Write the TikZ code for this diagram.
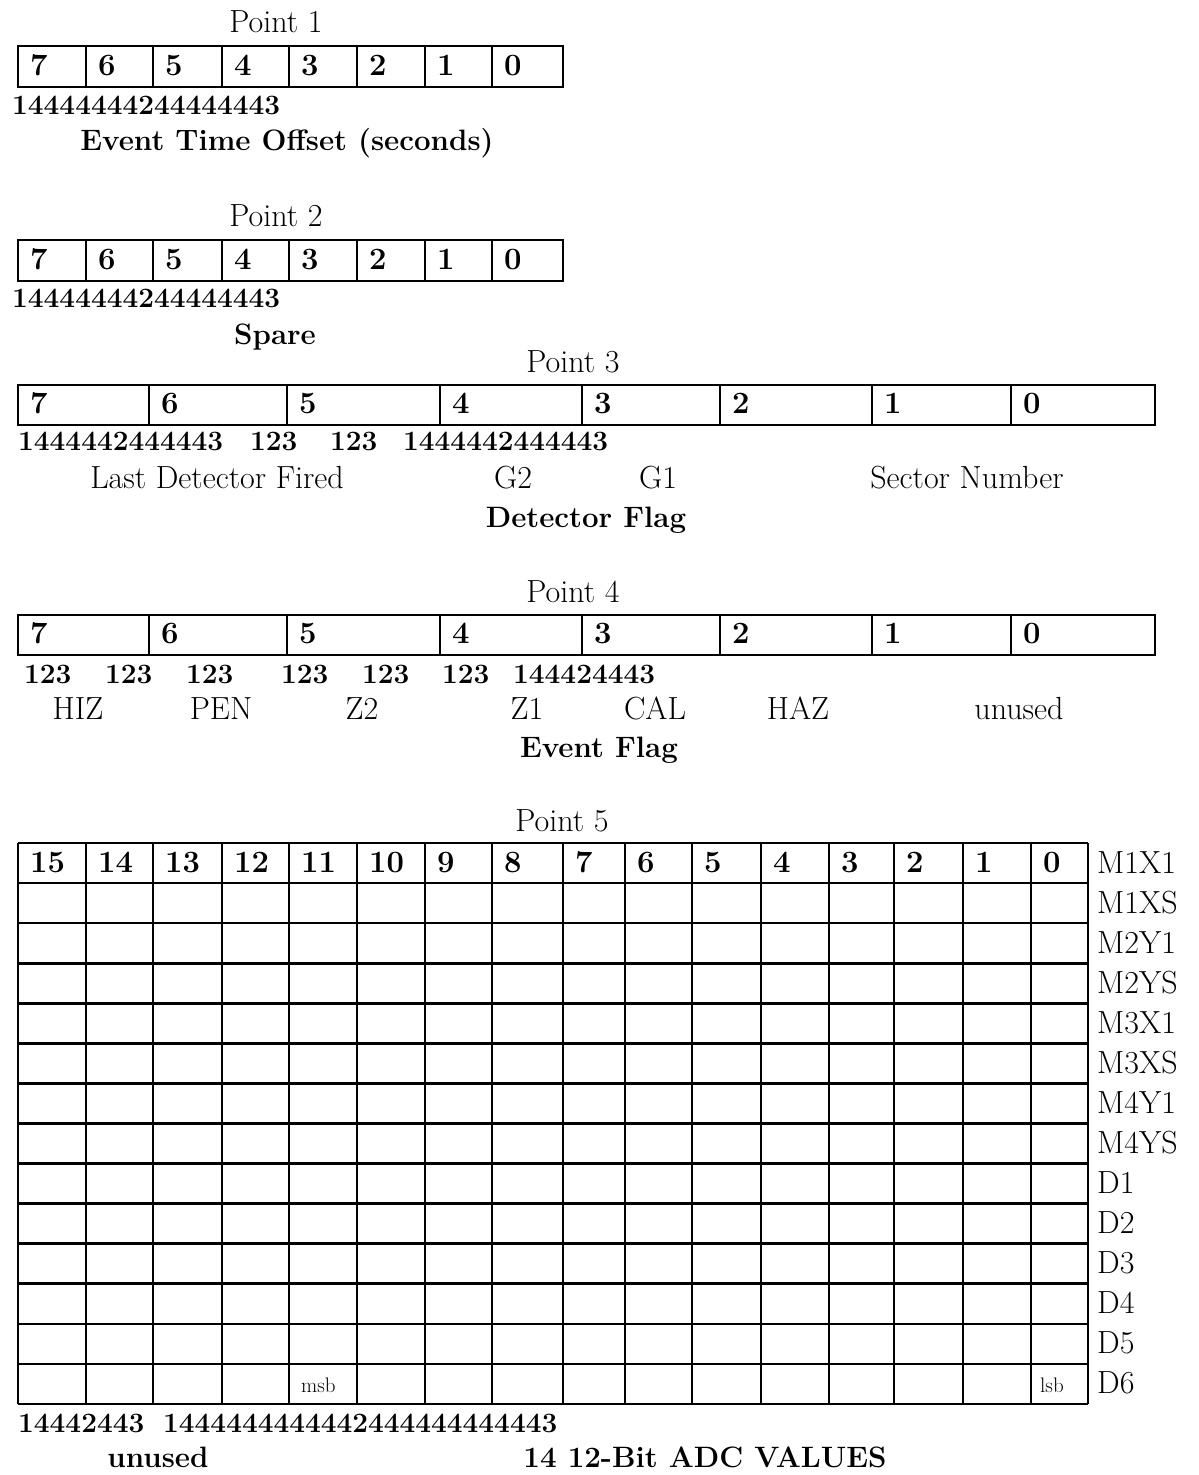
\documentclass[tikz,border=0pt]{standalone}
\usepackage{tikz}
\begin{document}
\begin{tikzpicture}[x=1pt,y=-1pt,
    rule/.style={line width=2.6pt},
    txt/.style={inner sep=0pt,font=\fontsize{32}{38}\selectfont},
    bld/.style={inner sep=0pt,font=\fontsize{29.5}{35}\selectfont\bfseries},
    bit/.style={inner sep=0pt,font=\fontsize{31}{36}\selectfont\bfseries,anchor=base west},
    brc/.style={inner sep=0pt,font=\fontsize{28}{34}\selectfont\bfseries,anchor=base west},
    small/.style={inner sep=0pt,font=\fontsize{21}{24}\selectfont,anchor=base west}]

\useasboundingbox (0,0) rectangle (1199,1475);

% Point 1
\node[txt,anchor=base] (p1) at (276,32) {Point 1};
\draw[rule] (18,46) rectangle (563,87);
\foreach \x/\b [count=\i] in {18/7,86/6,153/5,222/4,289/3,357/2,425/1,492/0}
  {\draw[rule] (\x,46) -- (\x,87);
   \node[bit] (a\i) at (\x+12,75) {\b};}
\node[brc] (a-br) at (12,114) {14444444244444443};
\node[bld,anchor=base] (a-name) at (287,150) {Event Time Offset (seconds)};

% Point 2
\node[txt,anchor=base] (p2) at (276,226) {Point 2};
\draw[rule] (18,240) rectangle (563,281);
\foreach \x/\b [count=\i] in {18/7,86/6,153/5,222/4,289/3,357/2,425/1,492/0}
  {\draw[rule] (\x,240) -- (\x,281);
   \node[bit] (b\i) at (\x+12,269) {\b};}
\node[brc] (b-br) at (12,307) {14444444244444443};
\node[bld,anchor=base] (b-name) at (275,344) {Spare};

% Point 3
\node[txt,anchor=base] (p3) at (573,372) {Point 3};
\draw[rule] (18,385) rectangle (1155,425);
\foreach \x/\b [count=\i] in {18/7,149/6,287/5,440/4,582/3,720/2,872/1,1011/0}
  {\draw[rule] (\x,385) -- (\x,425);
   \node[bit] (c\i) at (\x+12,413) {\b};}
\node[brc] (c-br1) at (18,450) {1444442444443};
\node[brc] (c-br2) at (250,450) {123};
\node[brc] (c-br3) at (330,450) {123};
\node[brc] (c-br4) at (403,450) {1444442444443};
\node[txt,anchor=base] (c-ldf) at (217,488) {Last Detector Fired};
\node[txt,anchor=base] (c-g2) at (513,488) {G2};
\node[txt,anchor=base] (c-g1) at (658,488) {G1};
\node[txt,anchor=base] (c-sec) at (967,488) {Sector Number};
\node[bld,anchor=base] (c-name) at (586,527) {Detector Flag};

% Point 4
\node[txt,anchor=base] (p4) at (573,602) {Point 4};
\draw[rule] (18,615) rectangle (1155,655);
\foreach \x/\b [count=\i] in {18/7,149/6,287/5,440/4,582/3,720/2,872/1,1011/0}
  {\draw[rule] (\x,615) -- (\x,655);
   \node[bit] (d\i) at (\x+12,643) {\b};}
\foreach \x [count=\i] in {24,105,186,281,362,442}
  \node[brc] (d-br\i) at (\x,683) {123};
\node[brc] (d-br7) at (513,683) {144424443};
\foreach \x/\t [count=\i] in {78/HIZ,221/PEN,362/Z2,527/Z1,655/CAL,798/HAZ,1019/unused}
  \node[txt,anchor=base] (d-f\i) at (\x,719) {\t};
\node[bld,anchor=base] (d-name) at (599,757) {Event Flag};

% Point 5
\node[txt,anchor=base] (p5) at (562,831) {Point 5};
\foreach \r in {0,...,14}
  \draw[rule] (18,843+\r*40.07) -- (1088,843+\r*40.07);
\foreach \x in {18,86,153,222,289,357,425,492,563,625,692,761,829,894,963,1031,1088}
  \draw[rule] (\x,843) -- (\x,1404);
\foreach \x/\b [count=\i] in {18/15,86/14,153/13,222/12,289/11,357/10,425/9,492/8,
    563/7,625/6,692/5,761/4,829/3,894/2,963/1,1031/0}
  \node[bit] (e\i) at (\x+12,872) {\b};
\foreach \t [count=\i from 0] in {M1X1,M1XS,M2Y1,M2YS,M3X1,M3XS,M4Y1,M4YS,D1,D2,D3,D4,D5,D6}
  \node[txt,anchor=base west] (e-r\i) at (1097,873+\i*40.07) {\t};
\node[small] (e-msb) at (301,1392) {msb};
\node[small] (e-lsb) at (1040,1392) {lsb};
\node[brc] (e-br1) at (18,1432) {14442443};
\node[brc] (e-br2) at (163,1432) {1444444444442444444444443};
\node[bld,anchor=base] (e-unused) at (158,1467) {unused};
\node[bld,anchor=base] (e-name) at (705,1467) {14 12-Bit ADC VALUES};
\end{tikzpicture}
\end{document}
